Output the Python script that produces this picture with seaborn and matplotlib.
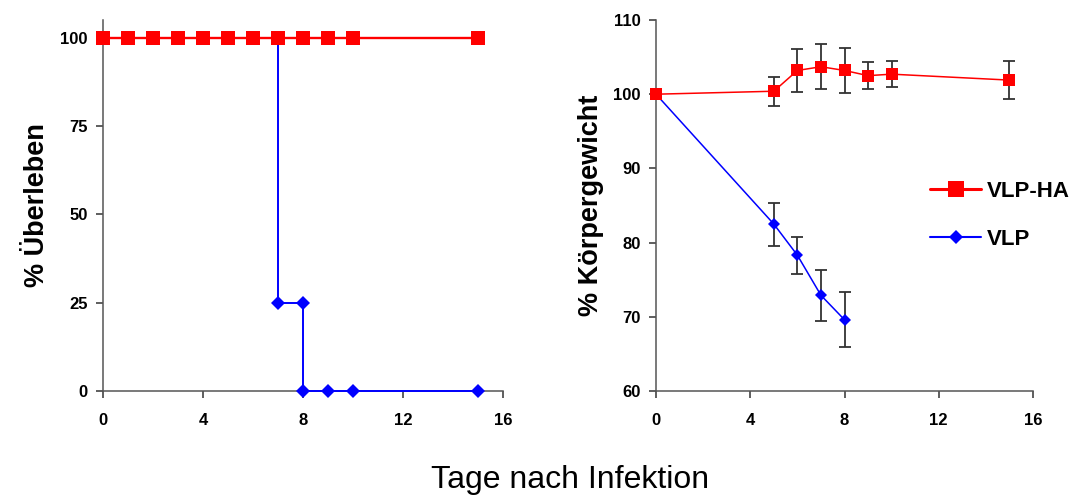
import numpy as np
import pandas as pd
import seaborn as sns
import matplotlib.pyplot as plt
from matplotlib.lines import Line2D

# ----------------------------------------------------------------------------
# data
# ----------------------------------------------------------------------------
# survival (left panel)
surv_days_ha = [0, 1, 2, 3, 4, 5, 6, 7, 8, 9, 10, 15]
surv_ha = [100, 100, 100, 100, 100, 100, 100, 100, 100, 100, 100, 100]
surv_days_vlp = [0, 1, 2, 3, 4, 5, 6, 7, 7, 8, 8, 9, 10, 15]
surv_vlp = [100, 100, 100, 100, 100, 100, 100, 100, 25, 25, 0, 0, 0, 0]

# body weight (right panel)
wt_days_ha = [0, 5, 6, 7, 8, 9, 10, 15]
wt_ha = [100, 100.4, 103.2, 103.7, 103.2, 102.5, 102.7, 101.9]
wt_ha_err = [0, 1.95, 2.95, 3.05, 3.05, 1.85, 1.75, 2.6]
wt_days_vlp = [0, 5, 6, 7, 8]
wt_vlp = [100, 82.5, 78.3, 72.9, 69.6]
wt_vlp_err = [0, 2.9, 2.5, 3.4, 3.7]

RED = '#ff0000'
BLUE = '#0000ff'

sns.set_style('ticks')
plt.rcParams['font.family'] = ['Liberation Sans', 'DejaVu Sans']
plt.rcParams.update({'text.color': 'black', 'axes.labelcolor': 'black',
                     'xtick.labelcolor': 'black', 'ytick.labelcolor': 'black'})

fig = plt.figure(figsize=(10.75, 4.95), dpi=100)
ax1 = fig.add_axes([103 / 1075, 104 / 495, 400 / 1075, 371 / 495])
ax2 = fig.add_axes([656 / 1075, 104 / 495, 377 / 1075, 371 / 495])

# ---- left: survival ----
df_vlp = pd.DataFrame({'day': surv_days_vlp, 'pct': surv_vlp})
df_ha = pd.DataFrame({'day': surv_days_ha, 'pct': surv_ha})
sns.lineplot(data=df_vlp, x='day', y='pct', ax=ax1, estimator=None, sort=False,
             color=BLUE, lw=1.4, marker='D', markersize=7, markeredgewidth=0,
             clip_on=False, zorder=3)
sns.lineplot(data=df_ha, x='day', y='pct', ax=ax1, estimator=None, sort=False,
             color=RED, lw=1.7, marker='s', markersize=9.5, markeredgewidth=0,
             clip_on=False, zorder=4)
ax1.set_xlim(0, 16)
ax1.set_ylim(0, 105)
ax1.set_xticks([0, 4, 8, 12, 16])
ax1.set_yticks([0, 25, 50, 75, 100])
ax1.set_xlabel('')
ax1.set_ylabel('% Überleben', fontsize=19.5, fontweight='bold', labelpad=7)

# ---- right: body weight ----
ax2.errorbar(wt_days_ha, wt_ha, yerr=wt_ha_err, fmt='none', ecolor='#333333',
             elinewidth=1.3, capsize=4, capthick=1.3, zorder=1)
ax2.errorbar(wt_days_vlp, wt_vlp, yerr=wt_vlp_err, fmt='none', ecolor='#333333',
             elinewidth=1.3, capsize=4, capthick=1.3, zorder=1)
df_wha = pd.DataFrame({'day': wt_days_ha, 'pct': wt_ha})
df_wvlp = pd.DataFrame({'day': wt_days_vlp, 'pct': wt_vlp})
sns.lineplot(data=df_wvlp, x='day', y='pct', ax=ax2, estimator=None, sort=False,
             color=BLUE, lw=1.1, marker='D', markersize=6.5, markeredgewidth=0,
             clip_on=False, zorder=3)
sns.lineplot(data=df_wha, x='day', y='pct', ax=ax2, estimator=None, sort=False,
             color=RED, lw=1.1, marker='s', markersize=8.5, markeredgewidth=0,
             clip_on=False, zorder=4)
ax2.set_xlim(0, 16)
ax2.set_ylim(60, 110)
ax2.set_xticks([0, 4, 8, 12, 16])
ax2.set_yticks([60, 70, 80, 90, 100, 110])
ax2.set_xlabel('')
ax2.set_ylabel('% Körpergewicht', fontsize=19.5, fontweight='bold', labelpad=7)

for ax in (ax1, ax2):
    sns.despine(ax=ax)
    for s in ('left', 'bottom'):
        ax.spines[s].set_color('#555555')
        ax.spines[s].set_linewidth(1.1)
    ax.tick_params(direction='out', length=5, width=1.1, color='#333333',
                   labelsize=12, pad=6)
    for lab in ax.get_xticklabels() + ax.get_yticklabels():
        lab.set_fontweight('bold')
    ax.tick_params(axis='x', pad=11)

handles = [
    Line2D([], [], color=RED, lw=2.2, marker='s', markersize=11, markeredgewidth=0),
    Line2D([], [], color=BLUE, lw=1.5, marker='D', markersize=7.5, markeredgewidth=0),
]
fig.legend(handles, ['VLP-HA', 'VLP'], loc='upper left',
           bbox_to_anchor=(930 / 1075, 1 - 181 / 495), frameon=False,
           prop={'size': 16, 'weight': 'bold'}, handlelength=2.3,
           handletextpad=0.25, labelspacing=1.2, borderpad=0, borderaxespad=0)

fig.text(570 / 1075, 1 - 480 / 495, 'Tage nach Infektion', fontsize=23,
         ha='center', va='center')

fig.savefig('out.png', dpi=100)
